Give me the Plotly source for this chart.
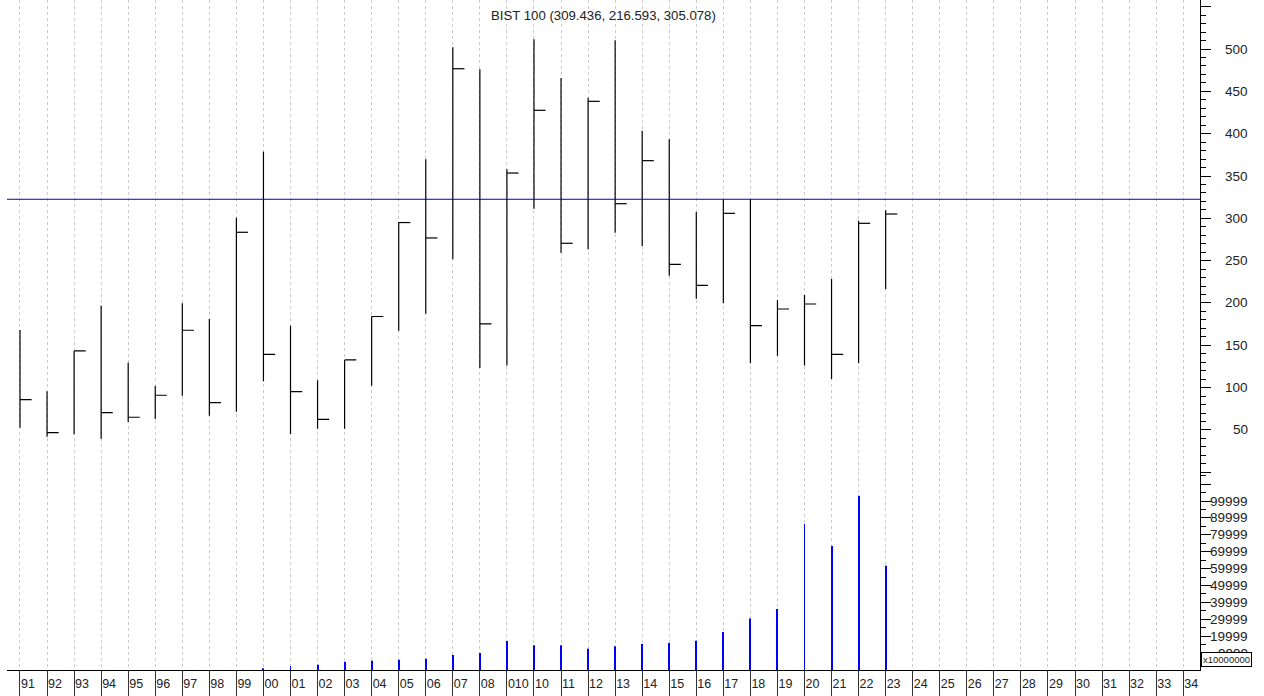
import plotly.graph_objects as go

# ---------------- data ----------------
categories = ["91", "92", "93", "94", "95", "96", "97", "98", "99",
              "00", "01", "02", "03", "04", "05", "06", "07", "08", "010",
              "10", "11", "12", "13", "14", "15", "16", "17", "18", "19",
              "20", "21", "22", "23", "24", "25", "26", "27", "28", "29",
              "30", "31", "32", "33", "34"]

bar_labels = categories[:33]  # 91 .. 23 carry price bars

high = [168.1, 95.7, 143.3, 196.8, 129.5, 102.0, 199.6, 181.1, 300.7,
        378.7, 173.2, 108.7, 132.7, 184.3, 295.3, 369.7, 502.0, 476.0, 357.9,
        511.5, 465.7, 442.5, 510.3, 403.5, 393.3, 307.5, 322.5, 322.5, 203.5,
        209.4, 228.3, 297.2, 309.436]
low = [52.7, 42.1, 44.9, 39.7, 59.5, 63.0, 90.5, 66.9, 71.6,
       107.5, 45.3, 51.5, 51.5, 102.3, 167.3, 187.4, 251.6, 123.2, 126.0,
       311.4, 259.4, 263.4, 283.0, 267.3, 232.2, 205.1, 199.6, 128.8, 137.8,
       126.0, 110.2, 128.8, 216.593]
close = [85.8, 46.8, 143.3, 70.4, 65.0, 91.0, 167.8, 82.2, 283.5,
         139.4, 95.2, 62.6, 132.7, 184.0, 295.0, 276.8, 476.7, 175.2, 353.5,
         427.6, 270.5, 438.2, 317.3, 368.1, 245.7, 220.9, 305.9, 173.2, 192.9,
         198.8, 139.4, 294.1, 305.078]

# volume in units of x10000000 (no volume for 91..99)
volume = [None, None, None, None, None, None, None, None, None,
          1000, 2400, 3100, 4900, 5500, 6100, 6700, 8900, 10100, 17200,
          14600, 14600, 12600, 14000, 15400, 16000, 17300, 22500, 30400, 36100,
          86400, 73400, 103100, 61700]

ref_level = 322.5
price_ticks = [0, 50, 100, 150, 200, 250, 300, 350, 400, 450, 500, 550]
price_labels = [50, 100, 150, 200, 250, 300, 350, 400, 450, 500]
price_minor = [v for v in range(0, 560, 10) if v % 50 != 0]
vol_ticks = [9999, 19999, 29999, 39999, 49999, 59999, 69999, 79999, 89999, 99999, 109999]
vol_labels = [9999, 19999, 29999, 39999, 49999, 59999, 69999, 79999, 89999, 99999]
vol_minor = [4999, 14999, 24999, 34999, 44999, 54999, 64999, 74999, 84999, 94999, 104999, 114999]
title_text = "BIST 100 (309.436, 216.593, 305.078)"
scale_text = "x10000000"

# ---------------- figure ----------------
xpos = list(range(len(categories)))
bar_x = xpos[:len(bar_labels)]

FONT = "Arial, Liberation Sans, sans-serif"
TXT = "#222222"

fig = go.Figure()

fig.add_trace(go.Bar(
    x=bar_x, y=volume, xaxis="x", yaxis="y2", width=0.035,
    marker=dict(color="#0000ff", line=dict(width=0)),
    hoverinfo="skip",
))

fig.add_trace(go.Scatter(
    x=bar_x, y=close, xaxis="x", yaxis="y", mode="markers",
    marker=dict(size=2, color="rgba(0,0,0,0)"),
    error_y=dict(type="data", symmetric=False,
                 array=[h - c for h, c in zip(high, close)],
                 arrayminus=[c - l for c, l in zip(close, low)],
                 width=0, thickness=1.2, color="black"),
    error_x=dict(type="data", symmetric=False,
                 array=[0.43] * len(bar_x), arrayminus=[0] * len(bar_x),
                 width=0, thickness=1.2, color="black"),
    hoverinfo="skip",
))

fig.add_shape(type="line", xref="paper", x0=0, x1=1, yref="y", y0=ref_level, y1=ref_level,
              line=dict(color="#0000cc", width=1))

annotations = [dict(text=title_text, xref="paper", yref="paper", x=0.5, y=0.9776,
                    xanchor="center", yanchor="middle", showarrow=False,
                    font=dict(family=FONT, size=13.2, color=TXT))]
for v in price_labels:
    annotations.append(dict(text=str(v), xref="paper", yref="y", x=1.0419, y=v,
                            xanchor="right", yanchor="middle", showarrow=False,
                            font=dict(family=FONT, size=13.5, color=TXT)))
for v in vol_labels:
    annotations.append(dict(text=str(v), xref="paper", yref="y2", x=1.0419, y=v,
                            xanchor="right", yanchor="middle", showarrow=False,
                            font=dict(family=FONT, size=13.5, color=TXT)))
annotations.append(dict(text=scale_text, xref="paper", yref="paper", x=1.0226, y=0.0157,
                        xanchor="center", yanchor="middle", showarrow=False,
                        bgcolor="white", bordercolor="black", borderwidth=1, borderpad=1,
                        font=dict(family=FONT, size=9.5, color=TXT)))

fig.update_layout(
    width=1264, height=696,
    margin=dict(l=7, r=64, t=0, b=26),
    plot_bgcolor="white", paper_bgcolor="white",
    showlegend=False,
    font=dict(family=FONT, size=12, color=TXT),
    annotations=annotations,
    xaxis=dict(
        anchor="y2",
        range=[-0.48, 43.62], tickmode="array", tickvals=xpos, ticktext=categories,
        ticks="outside", ticklen=26, tickcolor="#333333", tickwidth=1,
        ticklabelposition="outside right", ticklabelstandoff=2, ticklabelshift=0,
        tickfont=dict(family=FONT, size=12.5, color=TXT),
        showline=True, linecolor="black", linewidth=1,
        showgrid=True, gridcolor="#cccccc", griddash="dot", gridwidth=1,
        zeroline=False, fixedrange=True,
    ),
    yaxis=dict(
        domain=[0.2951, 1], range=[0, 557.9], side="right", anchor="x",
        tickmode="array", tickvals=price_ticks, showticklabels=False,
        ticks="outside", ticklen=10, tickcolor="black", tickwidth=1,
        minor=dict(tickmode="array", tickvals=price_minor, ticks="outside", ticklen=5,
                   tickcolor="black", tickwidth=1, showgrid=False),
        showline=True, linecolor="black", linewidth=1,
        showgrid=False, zeroline=False, fixedrange=True,
    ),
    yaxis2=dict(
        domain=[0, 0.2951], range=[0, 117000], side="right", anchor="x",
        tickmode="array", tickvals=vol_ticks, showticklabels=False,
        ticks="outside", ticklen=10, tickcolor="black", tickwidth=1,
        minor=dict(tickmode="array", tickvals=vol_minor, ticks="outside", ticklen=5,
                   tickcolor="black", tickwidth=1, showgrid=False),
        showline=True, linecolor="black", linewidth=1,
        showgrid=False, zeroline=False, fixedrange=True,
    ),
)

fig.write_html("out.html", config={"displayModeBar": False},
               post_script="document.body.style.margin='0px';")
